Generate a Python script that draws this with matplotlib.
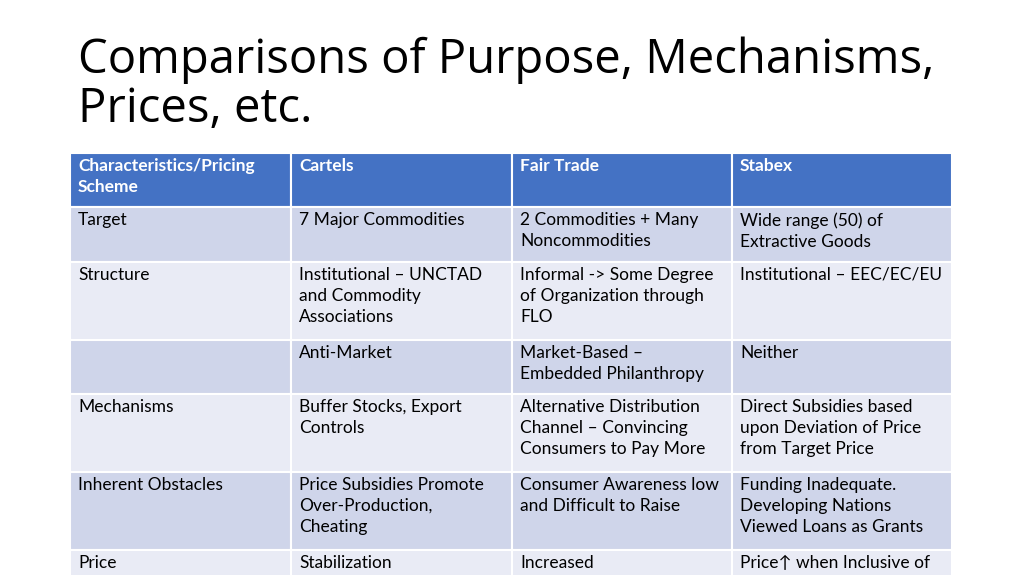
import matplotlib
matplotlib.use("Agg")
import matplotlib.pyplot as plt
from matplotlib.patches import Rectangle

title = "Comparisons of Purpose, Mechanisms,\nPrices, etc."
headers = ["Characteristics/Pricing\nScheme", "Cartels", "Fair Trade", "Stabex"]
row_labels = ["Target", "Structure", "", "Mechanisms", "Inherent Obstacles", "Price"]
cartels = ["7 Major Commodities", "Institutional – UNCTAD\nand Commodity\nAssociations", "Anti-Market",
           "Buffer Stocks, Export\nControls", "Price Subsidies Promote\nOver-Production,\nCheating", "Stabilization"]
fair_trade = ["2 Commodities + Many\nNoncommodities", "Informal -> Some Degree\nof Organization through\nFLO",
              "Market-Based –\nEmbedded Philanthropy", "Alternative Distribution\nChannel – Convincing\nConsumers to Pay More",
              "Consumer Awareness low\nand Difficult to Raise", "Increased"]
stabex = ["Wide range (50) of\nExtractive Goods", "Institutional – EEC/EC/EU", "Neither",
          "Direct Subsidies based\nupon Deviation of Price\nfrom Target Price",
          "Funding Inadequate.\nDeveloping Nations\nViewed Loans as Grants", "Price↑ when Inclusive of"]

fam = ["Lato", "DejaVu Sans"]
fig = plt.figure(figsize=(10.24, 5.75), dpi=100)
ax = fig.add_axes([0, 0, 1, 1])
ax.set_xlim(0, 1024); ax.set_ylim(575, 0); ax.axis("off")

ax.text(78, 85, title, fontsize=34, family=["Open Sans", "DejaVu Sans"], va="center", ha="left",
        linespacing=1.05, color="#000000")

xs = [70, 291, 512, 732, 952]
ys = [153, 207, 262, 340, 394, 472, 550, 640]
fills = ["#CFD5EA", "#E9EBF5"]
rows = [headers] + [[row_labels[i], cartels[i], fair_trade[i], stabex[i]] for i in range(len(row_labels))]
for r, row in enumerate(rows):
    y0, y1 = ys[r], ys[r + 1]
    color = "#4472C4" if r == 0 else fills[(r - 1) % 2]
    for c in range(4):
        ax.add_patch(Rectangle((xs[c], y0), xs[c + 1] - xs[c], y1 - y0, facecolor=color,
                               edgecolor="white", linewidth=1.5))
        ax.text(xs[c] + 8, y0 + 5, row[c], fontsize=12.5, family=fam, va="top", ha="left",
                linespacing=1.38, color="white" if r == 0 else "black",
                fontweight="bold" if r == 0 else "normal")

fig.savefig("out.png", dpi=100)
